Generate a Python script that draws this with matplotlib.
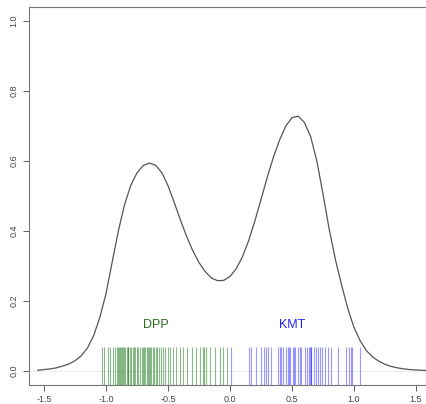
import numpy as np
import matplotlib
matplotlib.use('Agg')
import matplotlib.pyplot as plt

plt.rcParams['font.family'] = ['Liberation Sans', 'DejaVu Sans']

# density curve
dens_x = [-1.55, -1.50, -1.45, -1.40, -1.35, -1.30, -1.25, -1.20, -1.15, -1.10, -1.05,
          -1.00, -0.95, -0.90, -0.85, -0.80, -0.75, -0.70, -0.65, -0.60, -0.55, -0.50,
          -0.45, -0.40, -0.35, -0.30, -0.25, -0.20, -0.15, -0.10, -0.05, 0.00, 0.05,
          0.10, 0.15, 0.20, 0.25, 0.30, 0.35, 0.40, 0.45, 0.50, 0.55, 0.60, 0.65,
          0.70, 0.75, 0.80, 0.85, 0.90, 0.95, 1.00, 1.05, 1.10, 1.15, 1.20, 1.25,
          1.30, 1.35, 1.40, 1.45, 1.50, 1.55, 1.60]
dens_y = [0.002, 0.004, 0.006, 0.009, 0.014, 0.020, 0.029, 0.043, 0.065, 0.100, 0.152,
          0.220, 0.310, 0.400, 0.475, 0.530, 0.566, 0.587, 0.594, 0.588, 0.567, 0.530,
          0.482, 0.432, 0.385, 0.344, 0.310, 0.284, 0.266, 0.258, 0.259, 0.270, 0.292,
          0.326, 0.372, 0.428, 0.490, 0.553, 0.611, 0.660, 0.700, 0.724, 0.728, 0.710, 0.670,
          0.600, 0.505, 0.405, 0.318, 0.245, 0.178, 0.124, 0.086, 0.058, 0.040, 0.028, 0.019,
          0.013, 0.009, 0.006, 0.004, 0.003, 0.002, 0.001]

# rug positions
dpp = [-1.029, -1.013, -0.986, -0.967, -0.945, -0.927, -0.913, -0.905, -0.895, -0.887,
       -0.879, -0.872, -0.865, -0.854, -0.844, -0.833, -0.826, -0.820, -0.806, -0.795,
       -0.784, -0.774, -0.766, -0.752, -0.739, -0.726, -0.712, -0.699, -0.692, -0.685,
       -0.672, -0.659, -0.651, -0.645, -0.640, -0.624, -0.613, -0.599, -0.586, -0.570,
       -0.557, -0.543, -0.525, -0.503, -0.484, -0.458, -0.439, -0.404, -0.380, -0.350,
       -0.310, -0.270, -0.243, -0.216, -0.208, -0.195, -0.162, -0.122, -0.082, -0.056,
       -0.028]
kmt = [0.006, 0.151, 0.167, 0.213, 0.253, 0.272, 0.288, 0.304, 0.334, 0.387, 0.401,
       0.414, 0.427, 0.455, 0.467, 0.474, 0.481, 0.508, 0.515, 0.521, 0.548, 0.562,
       0.575, 0.602, 0.623, 0.634, 0.644, 0.650, 0.656, 0.677, 0.690, 0.706, 0.722,
       0.741, 0.763, 0.789, 0.817, 0.870, 0.937, 0.956, 0.972, 0.982, 1.044]

fig = plt.figure(figsize=(4.27, 4.04), dpi=100)
ax = fig.add_axes([29 / 427, 19 / 404, 397 / 427, 378 / 404])

ax.axhline(0, color='#eeeeee', lw=0.8, zorder=0)
ax.vlines(dpp, -0.05, 0.069, color='darkgreen', alpha=0.45, lw=0.8)
ax.vlines(kmt, -0.05, 0.069, color='blue', alpha=0.4, lw=0.8)
ax.plot(dens_x, dens_y, color='#555555', lw=0.9)

ax.text(-0.60, 0.13, 'DPP', color='#2e6b1f', fontsize=9, ha='center', va='center')
ax.text(0.50, 0.13, 'KMT', color='#2222ff', fontsize=9, ha='center', va='center')

ax.set_xlim(-1.62, 1.58)
ax.set_ylim(-0.04, 1.04)
ax.set_xticks([-1.5, -1.0, -0.5, 0.0, 0.5, 1.0, 1.5])
ax.set_yticks([0.0, 0.2, 0.4, 0.6, 0.8, 1.0])
ax.set_xticklabels(['-1.5', '-1.0', '-0.5', '0.0', '0.5', '1.0', '1.5'])
ax.set_yticklabels(['0.0', '0.2', '0.4', '0.6', '0.8', '1.0'], rotation=90, va='center')
ax.tick_params(labelsize=6.5, colors='#444444', length=4, width=0.6)
for s in ax.spines.values():
    s.set_color('#777777')
    s.set_linewidth(0.8)

fig.savefig('out.png', dpi=100)
